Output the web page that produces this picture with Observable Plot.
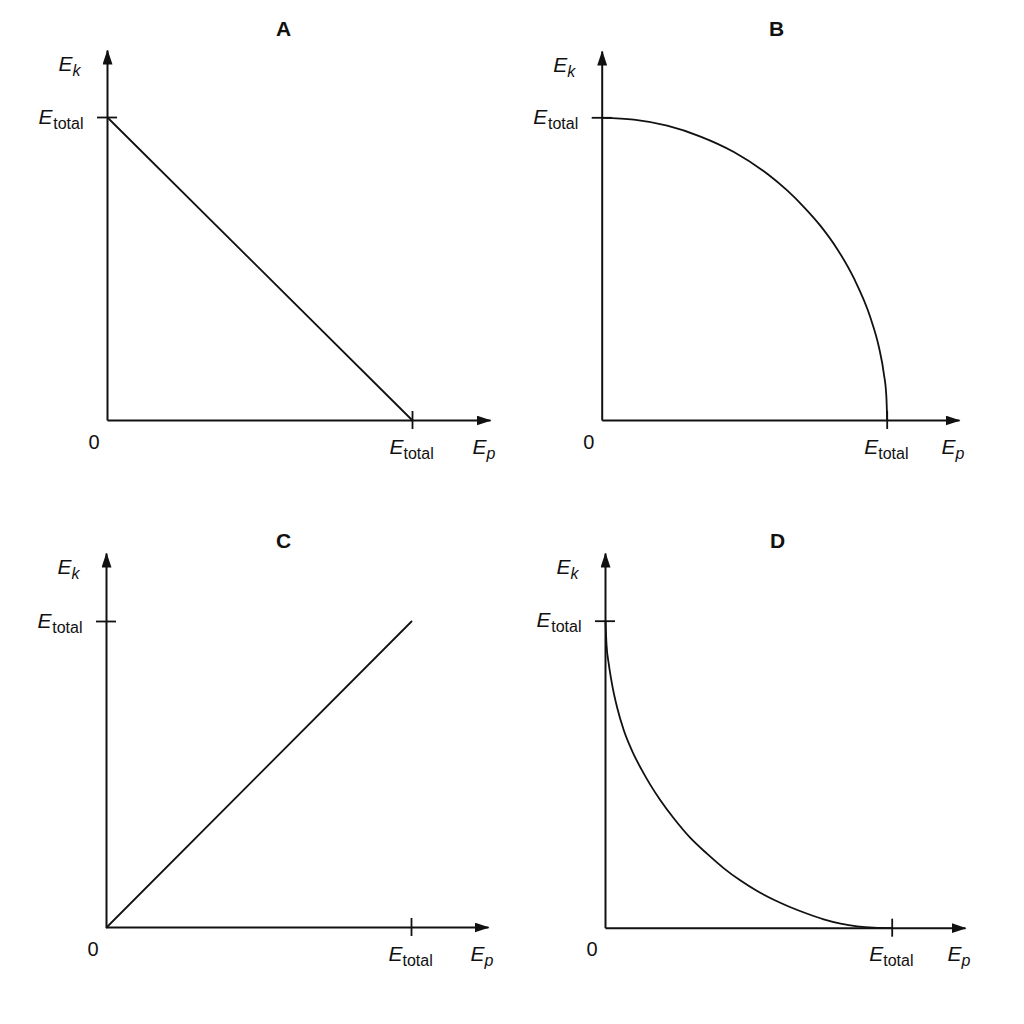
<!DOCTYPE html>
<html>
<head>
<meta charset="utf-8">
<script src="https://cdn.jsdelivr.net/npm/d3@7"></script>
<script src="https://cdn.jsdelivr.net/npm/@observablehq/plot@0.6"></script>
<style>
  html, body { margin: 0; padding: 0; background: #fff; }
  #root { position: relative; width: 1024px; height: 1024px; background: #fff; }
  .panel { position: absolute; width: 512px; height: 512px; }
  .panel svg { overflow: visible; }
</style>
</head>
<body>
<div id="root"></div>
<script>
// ---------- data ----------
const panelTitles = ["A", "B", "C", "D"];
const axisSymbol = "E";
const xSub = "p";          // E_p  (potential energy)
const ySub = "k";          // E_k  (kinetic energy)
const tickSub = "total";   // E_total
const originLabel = "0";
const tickValues = [1];    // E_total on both axes (normalised)

// A: straight line falling from E_total to 0
const epA = [0, 1];
const ekA = [1, 0];
// B: quarter-ellipse, concave
const epB = [0, 0.111, 0.228, 0.345, 0.462, 0.579, 0.649, 0.707, 0.766, 0.825, 0.883, 0.941, 0.971, 0.988, 0.997, 1];
const ekB = [1, 0.994, 0.974, 0.938, 0.887, 0.815, 0.760, 0.706, 0.643, 0.566, 0.470, 0.340, 0.242, 0.156, 0.080, 0];
// C: straight line rising from 0 to E_total
const epC = [0, 1];
const ekC = [0, 1];
// D: convex decay curve
const epD = [0, 0.0035, 0.0115, 0.0234, 0.0408, 0.0638, 0.0931, 0.125, 0.157, 0.192, 0.238, 0.296, 0.355, 0.413, 0.471, 0.529, 0.587, 0.639, 0.704, 0.761, 0.820, 0.878, 0.936, 1];
const ekD = [1, 0.925, 0.860, 0.792, 0.718, 0.645, 0.577, 0.518, 0.466, 0.416, 0.358, 0.294, 0.242, 0.195, 0.155, 0.121, 0.0925, 0.0707, 0.047, 0.029, 0.015, 0.006, 0.0015, 0];

const seriesEp = [epA, epB, epC, epD];
const seriesEk = [ekA, ekB, ekC, ekD];

// ---------- layout (pixels, per panel, local to each 512x512 panel) ----------
const layout = [
  {left: 0,   top: 0,   ox: 107,  oy: 420,   ex: 412,   ey: 117,   tx: 490, ty: 50, title: 283},
  {left: 512, top: 0,   ox: 89.7, oy: 420,   ex: 374.7, ey: 117.3, tx: 447, ty: 51, title: 264},
  {left: 0,   top: 512, ox: 106,  oy: 415,   ex: 411,   ey: 109,   tx: 488, ty: 41, title: 283},
  {left: 512, top: 512, ox: 93,   oy: 415.7, ex: 379.7, ey: 108.7, tx: 453, ty: 41, title: 265}
];

const FONT = "'Liberation Sans', Arial, Helvetica, sans-serif";
const INK = "#111";

// filled triangular arrowhead marker
function filledArrow(color) {
  const m = d3.create("svg:marker")
    .attr("viewBox", "0 -5 15 10")
    .attr("refX", 14)
    .attr("refY", 0)
    .attr("markerWidth", 15)
    .attr("markerHeight", 10)
    .attr("markerUnits", "userSpaceOnUse")
    .attr("orient", "auto");
  m.append("path").attr("d", "M0,-5L15,0L0,5Z").attr("fill", color).attr("stroke", "none");
  return m.node();
}

// symbol with subscript as two Plot.text marks
function symbolLabel(x, y, sub, opts) {
  const {dx, dy, subItalic, anchor} = opts;
  const mainSize = 21, subSize = 16;
  const marks = [];
  if (anchor === "right") {
    marks.push(Plot.text([sub], {x: () => x, y: () => y, text: d => d, dx: dx, dy: dy + 5,
      textAnchor: "end", lineAnchor: "bottom", fontSize: subSize, fontStyle: subItalic ? "italic" : "normal", fill: INK}));
    marks.push(Plot.text([axisSymbol], {x: () => x, y: () => y, text: d => d, dx: dx - opts.subWidth - 1, dy: dy,
      textAnchor: "end", lineAnchor: "bottom", fontSize: mainSize, fontStyle: "italic", fill: INK}));
  } else {
    marks.push(Plot.text([axisSymbol], {x: () => x, y: () => y, text: d => d, dx: dx, dy: dy,
      textAnchor: "start", lineAnchor: "bottom", fontSize: mainSize, fontStyle: "italic", fill: INK}));
    marks.push(Plot.text([sub], {x: () => x, y: () => y, text: d => d, dx: dx + 14, dy: dy + 5,
      textAnchor: "start", lineAnchor: "bottom", fontSize: subSize, fontStyle: subItalic ? "italic" : "normal", fill: INK}));
  }
  return marks;
}

const root = document.getElementById("root");

panelTitles.forEach((title, i) => {
  const L = layout[i];
  const xMax = (L.tx - L.ox) / (L.ex - L.ox);
  const yMax = (L.oy - L.ty) / (L.oy - L.ey);
  const ep = seriesEp[i], ek = seriesEk[i];

  const chart = Plot.plot({
    width: 512,
    height: 512,
    margin: 0,
    x: {type: "linear", domain: [0, 1], range: [L.ox, L.ex], axis: null},
    y: {type: "linear", domain: [0, 1], range: [L.oy, L.ey], axis: null},
    style: {fontFamily: FONT, background: "transparent", overflow: "visible"},
    marks: [
      // title
      Plot.text([title], {frameAnchor: "top-left", dx: L.title, dy: 29, text: d => d,
        textAnchor: "middle", lineAnchor: "middle", fontSize: 21, fontWeight: 600, fill: INK}),
      // axes with arrowheads
      Plot.link([0], {x1: () => 0, y1: () => 0, x2: () => xMax, y2: () => 0,
        stroke: INK, strokeWidth: 2, markerEnd: filledArrow}),
      Plot.link([0], {x1: () => 0, y1: () => 0, x2: () => 0, y2: () => yMax,
        stroke: INK, strokeWidth: 2, markerEnd: filledArrow}),
      // E_total ticks
      Plot.ruleX(tickValues, {x: d => d, y1: () => 0, y2: () => 0, insetTop: -9, insetBottom: -9,
        stroke: INK, strokeWidth: 1.8}),
      Plot.ruleY(tickValues, {y: d => d, x1: () => 0, x2: () => 0, insetLeft: -10, insetRight: -10,
        stroke: INK, strokeWidth: 1.8}),
      // the relation curve
      Plot.line(ek, {x: ep, y: ek, curve: "monotone-x", stroke: INK, strokeWidth: 1.8}),
      // origin label
      Plot.text([originLabel], {x: () => 0, y: () => 0, text: d => d, dx: -13.5, dy: 28,
        textAnchor: "middle", lineAnchor: "bottom", fontSize: 20, fill: INK}),
      // y-axis name E_k
      ...symbolLabel(0, yMax, ySub, {dx: -49, dy: 20, subItalic: true, anchor: "left"}),
      // x-axis name E_p
      ...symbolLabel(xMax, 0, xSub, {dx: -18, dy: 33, subItalic: true, anchor: "left"}),
      // E_total on y axis
      ...tickValues.flatMap(v => symbolLabel(0, v, tickSub, {dx: -24, dy: 6, subItalic: false, anchor: "right", subWidth: 30})),
      // E_total on x axis
      ...tickValues.flatMap(v => symbolLabel(v, 0, tickSub, {dx: -23, dy: 33, subItalic: false, anchor: "left"}))
    ]
  });

  const div = document.createElement("div");
  div.className = "panel";
  div.style.left = L.left + "px";
  div.style.top = L.top + "px";
  div.appendChild(chart);
  root.appendChild(div);
});
</script>
</body>
</html>
